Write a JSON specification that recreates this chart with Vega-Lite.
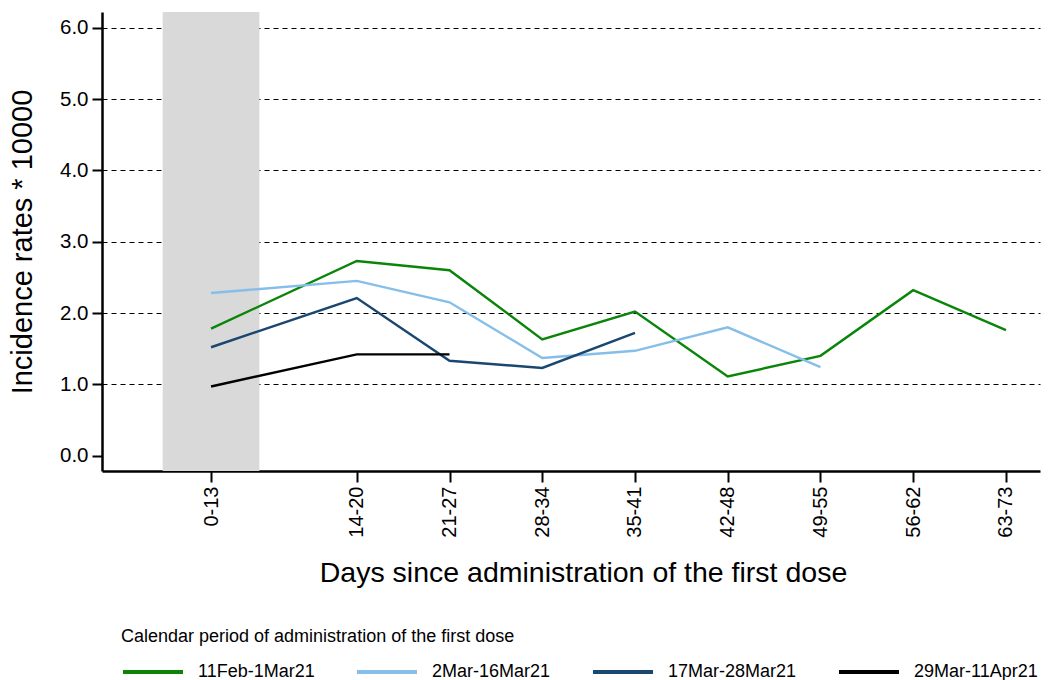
{
  "$schema": "https://vega.github.io/schema/vega-lite/v6.json",
  "width": 938,
  "height": 459,
  "autosize": {"type": "none"},
  "padding": {"left": 102, "top": 12, "right": 12, "bottom": 209},
  "background": "white",
  "config": {
    "view": {"stroke": null},
    "font": "Liberation Sans",
    "axis": {"labelFont": "Liberation Sans", "titleFont": "Liberation Sans", "labelColor": "black", "titleColor": "black", "titleFontWeight": "normal"},
    "legend": {"labelFont": "Liberation Sans", "titleFont": "Liberation Sans"}
  },
  "datasets": {
    "shade": [{"start": 2.35, "end": 9.65}],
    "rates": [
      {"period": "11Feb-1Mar21", "days": 6, "interval": "0-13", "rate": 1.78},
      {"period": "11Feb-1Mar21", "days": 17, "interval": "14-20", "rate": 2.73},
      {"period": "11Feb-1Mar21", "days": 24, "interval": "21-27", "rate": 2.60},
      {"period": "11Feb-1Mar21", "days": 31, "interval": "28-34", "rate": 1.63},
      {"period": "11Feb-1Mar21", "days": 38, "interval": "35-41", "rate": 2.02},
      {"period": "11Feb-1Mar21", "days": 45, "interval": "42-48", "rate": 1.11},
      {"period": "11Feb-1Mar21", "days": 52, "interval": "49-55", "rate": 1.40},
      {"period": "11Feb-1Mar21", "days": 59, "interval": "56-62", "rate": 2.32},
      {"period": "11Feb-1Mar21", "days": 66, "interval": "63-73", "rate": 1.76},
      {"period": "2Mar-16Mar21", "days": 6, "interval": "0-13", "rate": 2.28},
      {"period": "2Mar-16Mar21", "days": 17, "interval": "14-20", "rate": 2.45},
      {"period": "2Mar-16Mar21", "days": 24, "interval": "21-27", "rate": 2.15},
      {"period": "2Mar-16Mar21", "days": 31, "interval": "28-34", "rate": 1.37},
      {"period": "2Mar-16Mar21", "days": 38, "interval": "35-41", "rate": 1.47},
      {"period": "2Mar-16Mar21", "days": 45, "interval": "42-48", "rate": 1.80},
      {"period": "2Mar-16Mar21", "days": 52, "interval": "49-55", "rate": 1.24},
      {"period": "17Mar-28Mar21", "days": 6, "interval": "0-13", "rate": 1.52},
      {"period": "17Mar-28Mar21", "days": 17, "interval": "14-20", "rate": 2.21},
      {"period": "17Mar-28Mar21", "days": 24, "interval": "21-27", "rate": 1.33},
      {"period": "17Mar-28Mar21", "days": 31, "interval": "28-34", "rate": 1.23},
      {"period": "17Mar-28Mar21", "days": 38, "interval": "35-41", "rate": 1.72},
      {"period": "29Mar-11Apr21", "days": 6, "interval": "0-13", "rate": 0.97},
      {"period": "29Mar-11Apr21", "days": 17, "interval": "14-20", "rate": 1.42},
      {"period": "29Mar-11Apr21", "days": 24, "interval": "21-27", "rate": 1.42}
    ]
  },
  "layer": [
    {
      "data": {"name": "shade"},
      "mark": {"type": "rect", "color": "#d9d9d9"},
      "encoding": {
        "x": {"field": "start", "type": "quantitative", "scale": {"domain": [-2.23, 68.57], "nice": false, "zero": false}},
        "x2": {"field": "end"}
      }
    },
    {
      "data": {"name": "rates"},
      "mark": {"type": "line", "strokeWidth": 2.4},
      "encoding": {
        "x": {
          "field": "days", "type": "quantitative",
          "scale": {"domain": [-2.23, 68.57], "nice": false, "zero": false},
          "axis": {
            "values": [6, 17, 24, 31, 38, 45, 52, 59, 66],
            "labelExpr": "['0-13','14-20','21-27','28-34','35-41','42-48','49-55','56-62','63-73'][indexof([6,17,24,31,38,45,52,59,66], datum.value)]",
            "labelAngle": -90,
            "labelFontSize": 20,
            "labelPadding": 4,
            "tickSize": 11,
            "tickWidth": 2,
            "tickColor": "black",
            "domainColor": "black",
            "domainWidth": 2.5,
            "grid": false,
            "title": "Days since administration of the first dose",
            "titleFontSize": 28.5,
            "titlePadding": 21,
            "titleX": 481
          }
        },
        "y": {
          "field": "rate", "type": "quantitative",
          "scale": {"domain": [-0.215, 6.22], "nice": false, "zero": false},
          "axis": {
            "values": [0, 1, 2, 3, 4, 5, 6],
            "format": ".1f",
            "labelFontSize": 20.5,
            "labelPadding": 4,
            "tickSize": 10,
            "tickWidth": 2,
            "tickColor": "black",
            "domainColor": "black",
            "domainWidth": 2.5,
            "grid": true,
            "gridColor": "black",
            "gridWidth": 1,
            "gridDash": [5, 4],
            "gridOpacity": {"condition": {"test": "datum.value === 0", "value": 0}, "value": 1},
            "title": "Incidence rates * 10000",
            "titleFontSize": 29,
            "titlePadding": 22
          }
        },
        "color": {
          "field": "period", "type": "nominal",
          "scale": {
            "domain": ["11Feb-1Mar21", "2Mar-16Mar21", "17Mar-28Mar21", "29Mar-11Apr21"],
            "range": ["#0a850a", "#85bfe9", "#1a476f", "#000000"]
          },
          "legend": {
            "title": "Calendar period of administration of the first dose",
            "orient": "none",
            "legendX": 19,
            "legendY": 616,
            "direction": "horizontal",
            "columns": 4,
            "columnPadding": 34,
            "symbolType": "stroke",
            "symbolSize": 3600,
            "symbolStrokeWidth": 4,
            "labelOffset": 13,
            "labelFontSize": 18,
            "labelColor": "black",
            "titleFontSize": 18,
            "titleFontWeight": "normal",
            "titleColor": "black",
            "titlePadding": -6,
            "titleLimit": 800
          }
        }
      }
    }
  ]
}
